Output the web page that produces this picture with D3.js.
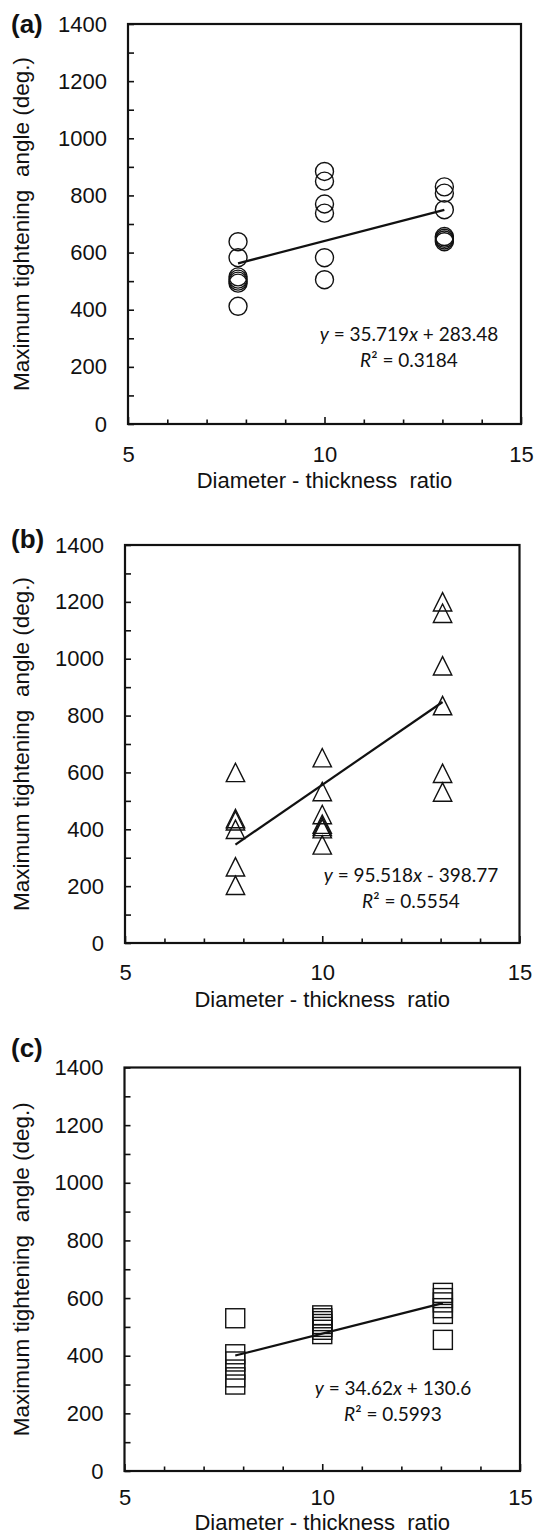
<!DOCTYPE html>
<html>
<head>
<meta charset="utf-8">
<script src="https://cdn.jsdelivr.net/npm/d3@7"></script>
<style>
  html, body { margin: 0; padding: 0; background: #fff; }
  svg { display: block; }
  text { font-family: "Liberation Sans", Arial, sans-serif; fill: #111; }
  .eq { font-family: Lato, "Open Sans", sans-serif; }
</style>
</head>
<body>
<svg id="chart" width="535" height="1535"></svg>
<script>
// ---------------- data ----------------
const panelLabels = ["(a)", "(b)", "(c)"];
const ratios = [7.8, 10, 13.05];               // diameter - thickness ratio (x categories)
const xTicksMajor = [5, 10, 15];
const xTicksMinor = [6, 7, 8, 9, 11, 12, 13, 14];
const yTicksMajor = [0, 200, 400, 600, 800, 1000, 1200, 1400];
const yTicksMinor = [100, 300, 500, 700, 900, 1100, 1300];

// maximum tightening angle (deg.) per ratio, panel (a) circles
const anglesA = [
  [638, 582, 515, 507, 500, 493, 412],
  [884, 850, 770, 738, 582, 505],
  [830, 808, 750, 656, 650, 644, 638]
];
// panel (b) triangles
const anglesB = [
  [600, 438, 430, 400, 268, 203],
  [652, 533, 452, 418, 410, 402, 345],
  [1200, 1160, 975, 835, 597, 531]
];
// panel (c) squares
const anglesC = [
  [530, 405, 380, 352, 325, 300],
  [540, 530, 520, 510, 500, 490, 475],
  [618, 600, 585, 565, 545, 455]
];
const fitSlopes = [35.719, 95.518, 34.62];
const fitIntercepts = [283.48, -398.77, 130.6];
const fitEquations = ["35.719x + 283.48", "95.518x - 398.77", "34.62x + 130.6"];
const fitR2 = ["0.3184", "0.5554", "0.5993"];
const markerKinds = ["circle", "triangle", "square"];

const xTitle = "Diameter - thickness  ratio";
const yTitle = "Maximum tightening  angle (deg.)";

// ---------------- layout ----------------
const layout = [
  { top: 24,   bottom: 424,  left: 128, right: 521, labelY: 33,   eqX: 409, eqY: 341, xtY: 64, tp: 22 },
  { top: 545,  bottom: 943,  left: 125, right: 519.5, labelY: 548, eqX: 411, eqY: 882, xtY: 64, tp: 21 },
  { top: 1067.5, bottom: 1471, left: 124.5, right: 520, labelY: 1057, eqX: 393, eqY: 1395, xtY: 59, tp: 18 }
];
const allData = [anglesA, anglesB, anglesC];

const svg = d3.select("#chart");

layout.forEach((L, i) => {
  const g = svg.append("g");
  const x = d3.scaleLinear().domain([5, 15]).range([L.left, L.right]);
  const y = d3.scaleLinear().domain([0, 1400]).range([L.bottom, L.top]);

  // y axis major
  const yAx = g.append("g").attr("transform", `translate(${L.left},0)`)
    .call(d3.axisLeft(y).tickValues(yTicksMajor).tickSize(-6).tickSizeOuter(0).tickPadding(21).tickFormat(d3.format("d")));
  yAx.select(".domain").remove();
  yAx.selectAll("line").attr("stroke", "#111").attr("stroke-width", 1.6);
  yAx.selectAll("text").style("font-size", "22px").style("font-family", '"Liberation Sans", Arial, sans-serif').attr("fill", "#111");

  const yMin = g.append("g").attr("transform", `translate(${L.left},0)`)
    .call(d3.axisLeft(y).tickValues(yTicksMinor).tickSize(-6).tickSizeOuter(0).tickFormat(""));
  yMin.select(".domain").remove();
  yMin.selectAll("line").attr("stroke", "#111").attr("stroke-width", 1.6);

  // x axis
  const xAx = g.append("g").attr("transform", `translate(0,${L.bottom})`)
    .call(d3.axisBottom(x).tickValues(xTicksMajor).tickSize(-7).tickSizeOuter(0).tickPadding(L.tp).tickFormat(d3.format("d")));
  xAx.select(".domain").remove();
  xAx.selectAll("line").attr("stroke", "#111").attr("stroke-width", 1.6);
  xAx.selectAll("text").style("font-size", "22px").style("font-family", '"Liberation Sans", Arial, sans-serif').attr("fill", "#111");

  const xMin = g.append("g").attr("transform", `translate(0,${L.bottom})`)
    .call(d3.axisBottom(x).tickValues(xTicksMinor).tickSize(-4.5).tickSizeOuter(0).tickFormat(""));
  xMin.select(".domain").remove();
  xMin.selectAll("line").attr("stroke", "#111").attr("stroke-width", 1.6);

  // box
  g.append("rect")
    .attr("x", x(5)).attr("y", y(1400))
    .attr("width", x(15) - x(5)).attr("height", y(0) - y(1400))
    .attr("fill", "none").attr("stroke", "#111").attr("stroke-width", 2.2);

  // markers
  const pts = [];
  allData[i].forEach((col, ci) => col.forEach(v => pts.push({ x: ratios[ci], y: v })));
  const kind = markerKinds[i];
  const mk = g.append("g").attr("fill", "none").attr("stroke", "#111").attr("stroke-width", 1.4);
  pts.forEach(p => {
    const cx = x(p.x), cy = y(p.y);
    if (kind === "circle") {
      mk.append("circle").attr("cx", cx).attr("cy", cy).attr("r", 9);
    } else if (kind === "triangle") {
      const h = 9.2;
      mk.append("path").attr("d", `M${cx},${cy - h}L${cx + h},${cy + h}L${cx - h},${cy + h}Z`);
    } else {
      const h = 9.5;
      mk.append("rect").attr("x", cx - h).attr("y", cy - h).attr("width", 2 * h).attr("height", 2 * h);
    }
  });

  // trendline
  const x0 = d3.min(ratios), x1 = d3.max(ratios);
  g.append("line")
    .attr("x1", x(x0)).attr("y1", y(fitSlopes[i] * x0 + fitIntercepts[i]))
    .attr("x2", x(x1)).attr("y2", y(fitSlopes[i] * x1 + fitIntercepts[i]))
    .attr("stroke", "#111").attr("stroke-width", 2.2);

  // equation
  const eq = g.append("text").attr("class", "eq").attr("x", L.eqX).attr("y", L.eqY)
    .attr("text-anchor", "middle").style("font-size", "19px");
  eq.append("tspan").style("font-style", "italic").text("y");
  const parts = fitEquations[i].split("x");
  eq.append("tspan").text(" = " + parts[0]);
  eq.append("tspan").style("font-style", "italic").text("x");
  eq.append("tspan").text(parts[1]);

  const r2 = g.append("text").attr("class", "eq").attr("x", L.eqX).attr("y", L.eqY + 26)
    .attr("text-anchor", "middle").style("font-size", "19px");
  r2.append("tspan").style("font-style", "italic").text("R");
  r2.append("tspan").text("² = " + fitR2[i]);

  // titles
  g.append("text").attr("x", (L.left + L.right) / 2).attr("y", L.bottom + L.xtY)
    .attr("text-anchor", "middle").style("font-size", "22px").style("white-space", "pre")
    .text(xTitle);
  g.append("text")
    .attr("transform", `translate(29,${(L.top + L.bottom) / 2}) rotate(-90)`)
    .attr("text-anchor", "middle").style("font-size", "22.5px").style("white-space", "pre")
    .text(yTitle);

  // panel label
  g.append("text").attr("x", 11).attr("y", L.labelY)
    .style("font-size", "26px").style("font-weight", "bold")
    .text(panelLabels[i]);
});
</script>
</body>
</html>
